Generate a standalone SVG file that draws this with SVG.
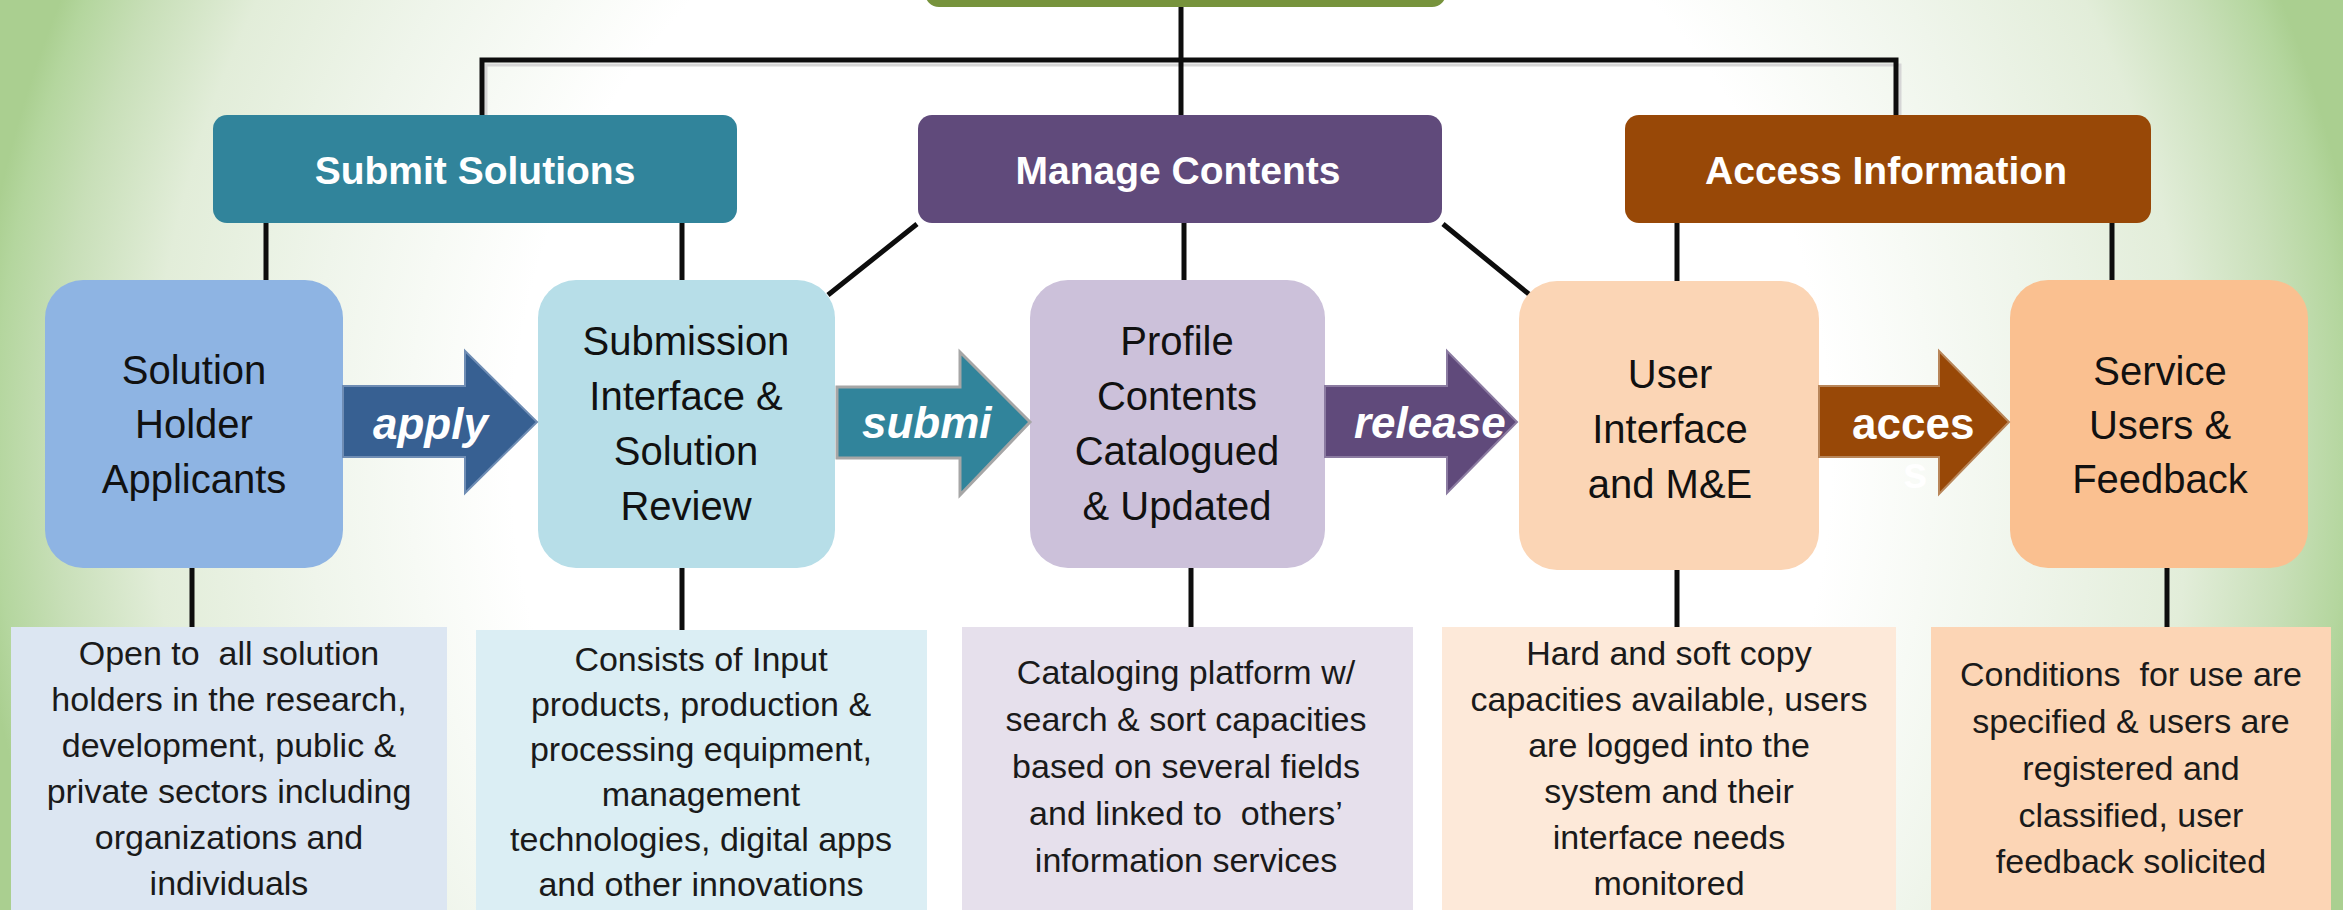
<svg xmlns="http://www.w3.org/2000/svg" width="2343" height="910" viewBox="0 0 2343 910">
<defs>
<radialGradient id="bg" gradientUnits="userSpaceOnUse" cx="1171" cy="455" r="1200">
<stop offset="0" stop-color="#FFFFFF"/>
<stop offset="0.55" stop-color="#FFFFFF"/>
<stop offset="0.72" stop-color="#EFF5EB"/>
<stop offset="0.85" stop-color="#E2EDD9"/>
<stop offset="0.93" stop-color="#C8DFB8"/>
<stop offset="0.98" stop-color="#B4D69E"/>
<stop offset="1" stop-color="#AACF90"/>
</radialGradient>
<style>
.hdr{font-family:"Liberation Sans",Arial,sans-serif;font-weight:bold;font-size:39px;fill:#FFFFFF;text-anchor:middle}
.proc{font-family:"Liberation Sans",Arial,sans-serif;font-size:40px;fill:#111111;text-anchor:middle}
.desc{font-family:"Liberation Sans",Arial,sans-serif;font-size:34px;fill:#1A1A1A;text-anchor:middle;white-space:pre}
.arr{font-family:"Liberation Sans",Arial,sans-serif;font-weight:bold;font-size:44px;fill:#FFFFFF}
.it{font-style:italic}
.ln{fill:none;stroke:#0D0D0D;stroke-width:5}
.shadow{fill:none;stroke:#D6D6D6;stroke-width:3}
</style>
</defs>
<rect x="0" y="0" width="2343" height="910" fill="url(#bg)"/>

<g id="connectors">
<path class="shadow" d="M486 115 V65 H1900 V115"/>
<path class="ln" d="M482 115 V60 H1896 V115"/>
<path class="ln" d="M1181 7 V115"/>
<path class="ln" d="M266 223 V280 M682 223 V280 M917 224 L828 295 M1184 223 V280 M1443 224 L1530 295 M1677 223 V282 M2112 223 V280"/>
<path class="ln" d="M192 568 V628 M682 568 V631 M1191 568 V628 M1677 570 V628 M2167 568 V628"/>
</g>

<g id="top-node">
<rect x="925" y="-40" width="521" height="47" rx="14" fill="#77933C"/>
</g>

<g id="submit-solutions">
<rect x="213" y="115" width="524" height="108" rx="14" fill="#31849B"/>
<text class="hdr" x="475" y="184">Submit Solutions</text>
</g>
<g id="manage-contents">
<rect x="918" y="115" width="524" height="108" rx="14" fill="#604A7B"/>
<text class="hdr" x="1178" y="184">Manage Contents</text>
</g>
<g id="access-information">
<rect x="1625" y="115" width="526" height="108" rx="14" fill="#984807"/>
<text class="hdr" x="1886" y="184">Access Information</text>
</g>

<g id="solution-holder">
<rect x="45" y="280" width="298" height="288" rx="38" fill="#8EB4E3"/>
<text class="proc" x="194" y="384">Solution</text>
<text class="proc" x="194" y="438">Holder</text>
<text class="proc" x="194" y="493">Applicants</text>
</g>
<g id="submission-interface">
<rect x="538" y="280" width="297" height="288" rx="38" fill="#B7DEE8"/>
<text class="proc" x="686" y="355">Submission</text>
<text class="proc" x="686" y="410">Interface &amp;</text>
<text class="proc" x="686" y="465">Solution</text>
<text class="proc" x="686" y="520">Review</text>
</g>
<g id="profile-contents">
<rect x="1030" y="280" width="295" height="288" rx="38" fill="#CCC1DA"/>
<text class="proc" x="1177" y="355">Profile</text>
<text class="proc" x="1177" y="410">Contents</text>
<text class="proc" x="1177" y="465">Catalogued</text>
<text class="proc" x="1177" y="520">&amp; Updated</text>
</g>
<g id="user-interface">
<rect x="1519" y="281" width="300" height="289" rx="38" fill="#FBD5B5"/>
<text class="proc" x="1670" y="388">User</text>
<text class="proc" x="1670" y="443">Interface</text>
<text class="proc" x="1670" y="498">and M&amp;E</text>
</g>
<g id="service-users">
<rect x="2010" y="280" width="298" height="288" rx="38" fill="#FAC090"/>
<text class="proc" x="2160" y="385">Service</text>
<text class="proc" x="2160" y="439">Users &amp;</text>
<text class="proc" x="2160" y="493">Feedback</text>
</g>

<g id="arrow-apply">
<path d="M343 386 H465 V351 L537 422 L465 493 V457 H343 Z" fill="#376092" stroke="#6F8DB4" stroke-width="2"/>
<text class="arr it" x="373" y="439">apply</text>
</g>
<g id="arrow-submit">
<path d="M837 387 H960 V352 L1030 422 L960 495 V458 H837 Z" fill="#31849B" stroke="#A6A6A6" stroke-width="3"/>
<text class="arr it" x="862" y="438">submi</text>
<text class="arr it" x="920" y="490">t</text>
</g>
<g id="arrow-release">
<path d="M1325 386 H1447 V351 L1517 422 L1447 493 V457 H1325 Z" fill="#604A7B" stroke="#8B7BA1" stroke-width="2"/>
<text class="arr it" x="1354" y="438">release</text>
</g>
<g id="arrow-access">
<path d="M1819 386 H1939 V351 L2009 422 L1939 494 V457 H1819 Z" fill="#984807" stroke="#B8865A" stroke-width="2"/>
<text class="arr" x="1852" y="439">acces</text>
<text class="arr" x="1903" y="488">s</text>
</g>

<g id="desc-1">
<rect x="11" y="627" width="436" height="290" fill="#DCE6F2"/>
<text class="desc" x="229" y="665">Open to  all solution</text>
<text class="desc" x="229" y="711">holders in the research,</text>
<text class="desc" x="229" y="757">development, public &amp;</text>
<text class="desc" x="229" y="803">private sectors including</text>
<text class="desc" x="229" y="849">organizations and</text>
<text class="desc" x="229" y="895">individuals</text>
</g>
<g id="desc-2">
<rect x="476" y="630" width="451" height="290" fill="#DBEEF4"/>
<text class="desc" x="701" y="671">Consists of Input</text>
<text class="desc" x="701" y="716">products, production &amp;</text>
<text class="desc" x="701" y="761">processing equipment,</text>
<text class="desc" x="701" y="806">management</text>
<text class="desc" x="701" y="851">technologies, digital apps</text>
<text class="desc" x="701" y="896">and other innovations</text>
</g>
<g id="desc-3">
<rect x="962" y="627" width="451" height="290" fill="#E6E0EC"/>
<text class="desc" x="1186" y="684">Cataloging platform w/</text>
<text class="desc" x="1186" y="731">search &amp; sort capacities</text>
<text class="desc" x="1186" y="778">based on several fields</text>
<text class="desc" x="1186" y="825">and linked to  others’</text>
<text class="desc" x="1186" y="872">information services</text>
</g>
<g id="desc-4">
<rect x="1442" y="627" width="454" height="290" fill="#FDE9D9"/>
<text class="desc" x="1669" y="665">Hard and soft copy</text>
<text class="desc" x="1669" y="711">capacities available, users</text>
<text class="desc" x="1669" y="757">are logged into the</text>
<text class="desc" x="1669" y="803">system and their</text>
<text class="desc" x="1669" y="849">interface needs</text>
<text class="desc" x="1669" y="895">monitored</text>
</g>
<g id="desc-5">
<rect x="1931" y="627" width="400" height="290" fill="#FCD5B5"/>
<text class="desc" x="2131" y="686">Conditions  for use are</text>
<text class="desc" x="2131" y="733">specified &amp; users are</text>
<text class="desc" x="2131" y="780">registered and</text>
<text class="desc" x="2131" y="827">classified, user</text>
<text class="desc" x="2131" y="873">feedback solicited</text>
</g>
</svg>
